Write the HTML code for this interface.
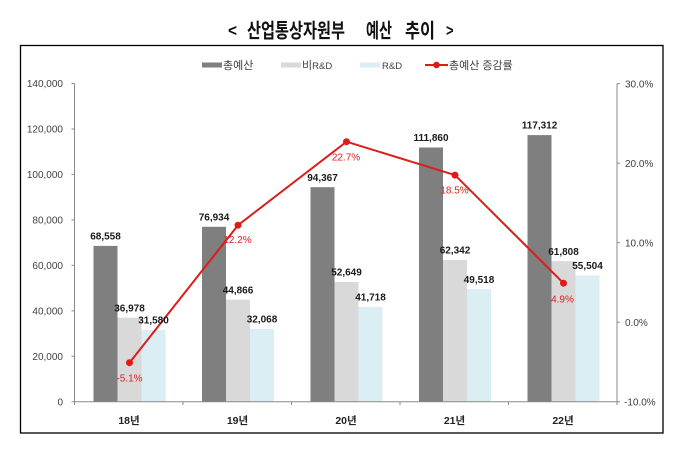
<!DOCTYPE html>
<html>
<head>
<meta charset="utf-8">
<style>
  html,body{margin:0;padding:0;background:#fff;}
  svg{display:block;}
  text{font-family:"Liberation Sans","Noto Sans CJK KR",sans-serif;}
</style>
</head>
<body>
<svg width="686" height="454" viewBox="0 0 686 454" xmlns="http://www.w3.org/2000/svg">
  <rect x="0" y="0" width="686" height="454" fill="#fff"/>

  <!-- Title -->
  <g font-weight="bold" font-size="20" fill="#111">
    <text x="228" y="36" font-size="17" textLength="9" lengthAdjust="spacingAndGlyphs">&lt;</text>
    <text x="247" y="37.5" textLength="98" lengthAdjust="spacingAndGlyphs">산업통상자원부</text>
    <text x="366" y="37.5" textLength="26" lengthAdjust="spacingAndGlyphs">예산</text>
    <text x="405" y="37.5" textLength="30" lengthAdjust="spacingAndGlyphs">추이</text>
    <text x="446" y="36" font-size="17" textLength="7.5" lengthAdjust="spacingAndGlyphs">&gt;</text>
  </g>

  <!-- Chart border -->
  <rect x="20.5" y="45.5" width="642.5" height="387.5" fill="none" stroke="#000" stroke-width="1.3"/>

  <!-- Legend -->
  <g font-size="11" fill="#404040">
    <rect x="202" y="62.5" width="20" height="5" fill="#7f7f7f"/>
    <text x="223" y="69">총예산</text>
    <rect x="281" y="62.5" width="20" height="5" fill="#d9d9d9"/>
    <text x="302" y="69">비<tspan font-size="9.5">R&amp;D</tspan></text>
    <rect x="360" y="62.5" width="20" height="5" fill="#daeef3"/>
    <text x="382" y="69" font-size="9.5">R&amp;D</text>
    <line x1="425" y1="65" x2="448" y2="65" stroke="#dd1c1a" stroke-width="2"/>
    <circle cx="436.5" cy="65" r="3.3" fill="#dd1c1a"/>
    <text x="449" y="69">총예산 증감률</text>
  </g>

  <!-- Bars -->
  <g>
    <rect x="93.5" y="245.9" width="24" height="155.8" fill="#7f7f7f"/>
    <rect x="117.5" y="317.7" width="24" height="84.0" fill="#d9d9d9"/>
    <rect x="141.5" y="329.9" width="24" height="71.8" fill="#daeef3"/>

    <rect x="202" y="226.8" width="24" height="174.9" fill="#7f7f7f"/>
    <rect x="226" y="299.7" width="24" height="102.0" fill="#d9d9d9"/>
    <rect x="250" y="328.8" width="24" height="72.9" fill="#daeef3"/>

    <rect x="310.5" y="187.2" width="24" height="214.5" fill="#7f7f7f"/>
    <rect x="334.5" y="282.0" width="24" height="119.7" fill="#d9d9d9"/>
    <rect x="358.5" y="306.9" width="24" height="94.8" fill="#daeef3"/>

    <rect x="419" y="147.5" width="24" height="254.2" fill="#7f7f7f"/>
    <rect x="443" y="260.0" width="24" height="141.7" fill="#d9d9d9"/>
    <rect x="467" y="289.2" width="24" height="112.5" fill="#daeef3"/>

    <rect x="527.5" y="135.1" width="24" height="266.6" fill="#7f7f7f"/>
    <rect x="551.5" y="261.2" width="24" height="140.5" fill="#d9d9d9"/>
    <rect x="575.5" y="275.5" width="24" height="126.2" fill="#daeef3"/>
  </g>

  <!-- Axes -->
  <g stroke="#898989" stroke-width="1" fill="none">
    <line x1="74.5" y1="83.5" x2="74.5" y2="401.7"/>
    <line x1="617" y1="83.5" x2="617" y2="401.7"/>
    <line x1="74.5" y1="401.7" x2="617" y2="401.7"/>
    <line x1="71.5" y1="401.7" x2="74.5" y2="401.7"/>
    <line x1="71.5" y1="356.2" x2="74.5" y2="356.2"/>
    <line x1="71.5" y1="310.8" x2="74.5" y2="310.8"/>
    <line x1="71.5" y1="265.3" x2="74.5" y2="265.3"/>
    <line x1="71.5" y1="219.9" x2="74.5" y2="219.9"/>
    <line x1="71.5" y1="174.4" x2="74.5" y2="174.4"/>
    <line x1="71.5" y1="129.0" x2="74.5" y2="129.0"/>
    <line x1="71.5" y1="83.5" x2="74.5" y2="83.5"/>
    <line x1="617" y1="401.7" x2="620" y2="401.7"/>
    <line x1="617" y1="322.2" x2="620" y2="322.2"/>
    <line x1="617" y1="242.7" x2="620" y2="242.7"/>
    <line x1="617" y1="163.2" x2="620" y2="163.2"/>
    <line x1="617" y1="83.7" x2="620" y2="83.7"/>
    <line x1="74.5" y1="401.7" x2="74.5" y2="405"/>
    <line x1="183" y1="401.7" x2="183" y2="405"/>
    <line x1="291.5" y1="401.7" x2="291.5" y2="405"/>
    <line x1="400" y1="401.7" x2="400" y2="405"/>
    <line x1="508.5" y1="401.7" x2="508.5" y2="405"/>
    <line x1="617" y1="401.7" x2="617" y2="405"/>
  </g>

  <!-- Left axis labels -->
  <g font-size="10" fill="#404040" text-anchor="end">
    <text x="63" y="405.3">0</text>
    <text x="63" y="359.8">20,000</text>
    <text x="63" y="314.4">40,000</text>
    <text x="63" y="268.9">60,000</text>
    <text x="63" y="223.5">80,000</text>
    <text x="63" y="178.0">100,000</text>
    <text x="63" y="132.6">120,000</text>
    <text x="63" y="87.1">140,000</text>
  </g>
  <!-- Right axis labels -->
  <g font-size="10" fill="#404040">
    <text x="624" y="405.3">-10.0%</text>
    <text x="625" y="325.8">0.0%</text>
    <text x="625" y="246.3">10.0%</text>
    <text x="625" y="166.8">20.0%</text>
    <text x="625" y="87.3">30.0%</text>
  </g>

  <!-- X labels -->
  <g font-size="10.5" font-weight="bold" fill="#222" text-anchor="middle">
    <text x="129" y="424">18년</text>
    <text x="237.5" y="424">19년</text>
    <text x="346" y="424">20년</text>
    <text x="454.5" y="424">21년</text>
    <text x="563" y="424">22년</text>
  </g>

  <!-- Line series -->
  <polyline points="129.5,362.7 238,225.2 346.5,141.7 455,175.1 563.5,283.2" fill="none" stroke="#dd1c1a" stroke-width="2"/>
  <g fill="#dd1c1a">
    <circle cx="129.5" cy="362.7" r="3.5"/>
    <circle cx="238" cy="225.2" r="3.5"/>
    <circle cx="346.5" cy="141.7" r="3.5"/>
    <circle cx="455" cy="175.1" r="3.5"/>
    <circle cx="563.5" cy="283.2" r="3.5"/>
  </g>

  <!-- Bar value labels -->
  <g font-size="10" font-weight="bold" fill="#1a1a1a" text-anchor="middle">
    <text x="105.5" y="239.5">68,558</text>
    <text x="129.5" y="311.3">36,978</text>
    <text x="153.5" y="323.5">31,580</text>

    <text x="214" y="220.4">76,934</text>
    <text x="238" y="293.3">44,866</text>
    <text x="262" y="322.4">32,068</text>

    <text x="322.5" y="180.8">94,367</text>
    <text x="346.5" y="275.6">52,649</text>
    <text x="370.5" y="300.5">41,718</text>

    <text x="431" y="141.1">111,860</text>
    <text x="455" y="253.6">62,342</text>
    <text x="479" y="282.8">49,518</text>

    <text x="539.5" y="128.7">117,312</text>
    <text x="563.5" y="254.8">61,808</text>
    <text x="587.5" y="269.1">55,504</text>
  </g>

  <!-- Line value labels -->
  <g font-size="10" fill="#e0201e" text-anchor="middle">
    <text x="129.5" y="381.3">-5.1%</text>
    <text x="237.5" y="243.2">12.2%</text>
    <text x="346" y="160.3">22.7%</text>
    <text x="454.5" y="193.3">18.5%</text>
    <text x="562.5" y="302.3">4.9%</text>
  </g>
</svg>
</body>
</html>
